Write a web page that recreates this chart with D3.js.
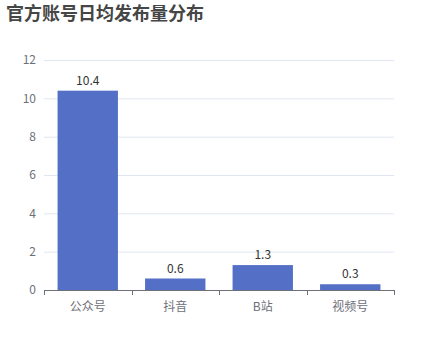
<!DOCTYPE html>
<html>
<head>
<meta charset="utf-8">
<script src="https://cdn.jsdelivr.net/npm/d3@7"></script>
<style>
  body { margin: 0; background: #fff; }
  text { font-family: "Noto Sans CJK SC", "Noto Sans", sans-serif; }
</style>
</head>
<body>
<svg id="chart" width="438" height="360"></svg>
<script>
// Daily average posts per official account channel.
const categories = ["公众号", "抖音", "B站", "视频号"];
const values = [10.4, 0.6, 1.3, 0.3];
const yTicks = [0, 2, 4, 6, 8, 10, 12];

const svg = d3.select("#chart");
const margin = { top: 60, right: 44, bottom: 70, left: 44 };
const width = +svg.attr("width");
const height = +svg.attr("height");
const innerWidth = width - margin.left - margin.right;
const innerHeight = height - margin.top - margin.bottom;

svg.append("text")
  .attr("x", 6)
  .attr("y", 20)
  .attr("fill", "#464646")
  .attr("font-size", 18)
  .attr("font-weight", "bold")
  .text("官方账号日均发布量分布");

const g = svg.append("g")
  .attr("transform", `translate(${margin.left},${margin.top})`);

const x = d3.scaleBand()
  .domain(categories)
  .range([0, innerWidth]);

const y = d3.scaleLinear()
  .domain([0, 12])
  .range([innerHeight, 0]);

// grid lines
g.selectAll(".grid")
  .data(yTicks.filter(d => d !== 0))
  .join("line")
  .attr("class", "grid")
  .attr("x1", 0)
  .attr("x2", innerWidth)
  .attr("y1", d => y(d) + 0.5)
  .attr("y2", d => y(d) + 0.5)
  .attr("stroke", "#e0e6f1");

// y axis labels
g.selectAll(".ylabel")
  .data(yTicks)
  .join("text")
  .attr("class", "ylabel")
  .attr("x", -8)
  .attr("y", d => y(d))
  .attr("dy", "0.35em")
  .attr("text-anchor", "end")
  .attr("fill", "#6e7079")
  .attr("font-size", 12)
  .text(d => d);

// bars
const barW = x.bandwidth() * 0.69;
g.selectAll(".bar")
  .data(values)
  .join("rect")
  .attr("class", "bar")
  .attr("x", (d, i) => x(categories[i]) + (x.bandwidth() - barW) / 2)
  .attr("y", d => y(d))
  .attr("width", barW)
  .attr("height", d => innerHeight - y(d))
  .attr("fill", "#5470c6");

g.selectAll(".value")
  .data(values)
  .join("text")
  .attr("class", "value")
  .attr("x", (d, i) => x(categories[i]) + x.bandwidth() / 2)
  .attr("y", d => y(d) - 6)
  .attr("text-anchor", "middle")
  .attr("fill", "#333")
  .attr("font-size", 12)
  .text(d => d);

// x axis
const xAxis = g.append("g")
  .attr("transform", `translate(0,${innerHeight})`);

xAxis.append("line")
  .attr("x1", 0)
  .attr("x2", innerWidth)
  .attr("y1", 0.5)
  .attr("y2", 0.5)
  .attr("stroke", "#6e7079");

const edges = categories.map(c => x(c)).concat([innerWidth]);
xAxis.selectAll(".tick")
  .data(edges)
  .join("line")
  .attr("class", "tick")
  .attr("x1", d => Math.round(d) + 0.5)
  .attr("x2", d => Math.round(d) + 0.5)
  .attr("y1", 0)
  .attr("y2", 5)
  .attr("stroke", "#6e7079");

xAxis.selectAll(".xlabel")
  .data(categories)
  .join("text")
  .attr("class", "xlabel")
  .attr("x", d => x(d) + x.bandwidth() / 2)
  .attr("y", 12)
  .attr("dy", "0.71em")
  .attr("text-anchor", "middle")
  .attr("fill", "#6e7079")
  .attr("font-size", 12)
  .text(d => d);
</script>
</body>
</html>
